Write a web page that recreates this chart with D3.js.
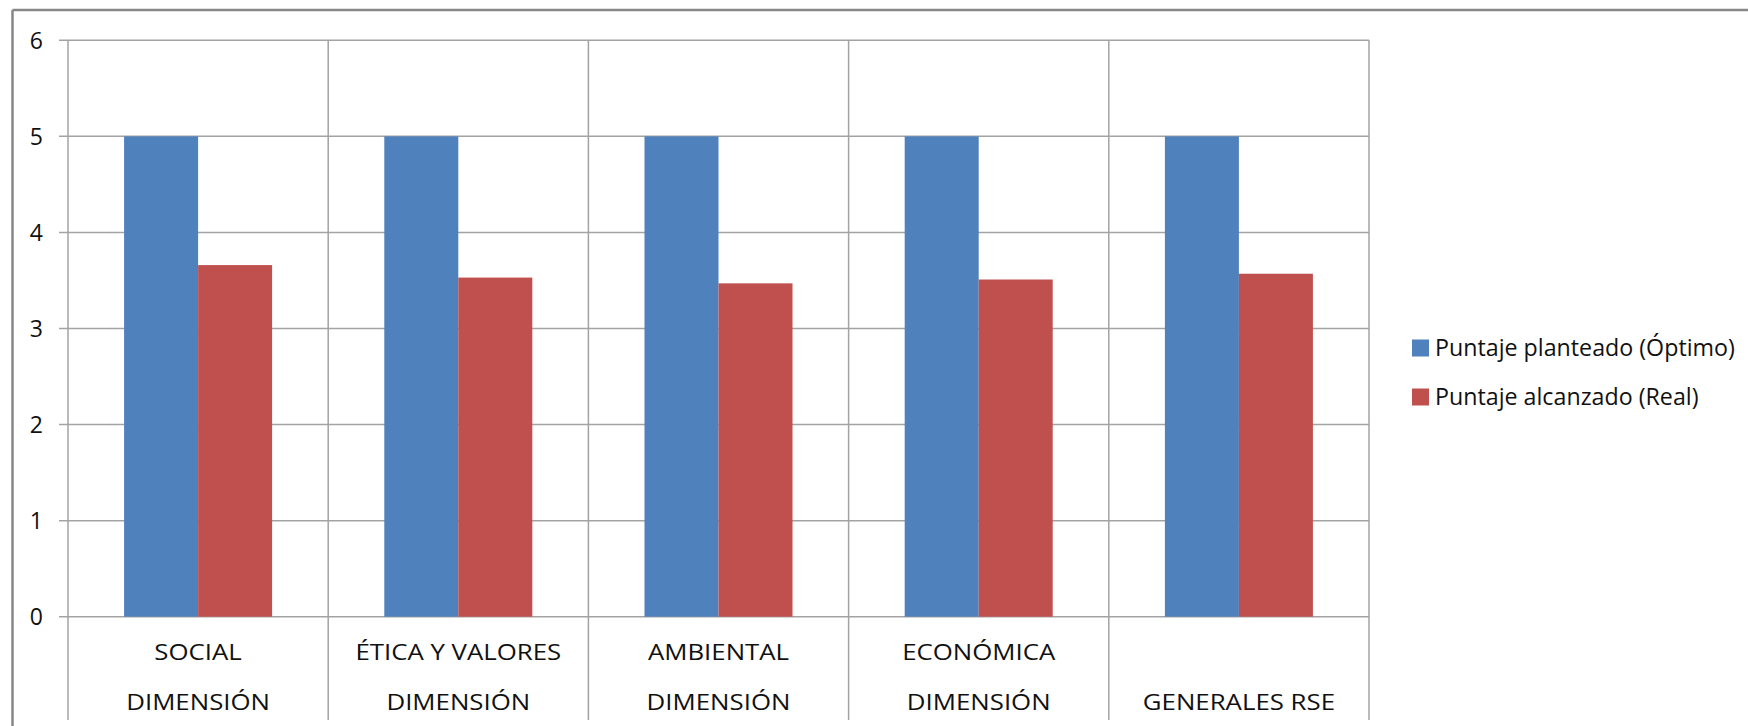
<!DOCTYPE html>
<html>
<head>
<meta charset="utf-8">
<script src="https://cdn.jsdelivr.net/npm/d3@7"></script>
<style>
  body { margin: 0; background: #fff; }
  #myPlot { width: 1748px; height: 726px; }
  text { font-family: "Open Sans", Lato, sans-serif; fill: #111; }
</style>
</head>
<body>
<div id="myPlot"></div>
<script>
// Data
const categories = ["SOCIAL", "ÉTICA Y VALORES", "AMBIENTAL", "ECONÓMICA", "GENERALES RSE"];
const labelLine1 = ["SOCIAL", "ÉTICA Y VALORES", "AMBIENTAL", "ECONÓMICA", ""];
const labelLine2 = ["DIMENSIÓN", "DIMENSIÓN", "DIMENSIÓN", "DIMENSIÓN", "GENERALES RSE"];
const seriesNames = ["Puntaje planteado (Óptimo)", "Puntaje alcanzado (Real)"];
const optimo = [5, 5, 5, 5, 5];
const real = [3.66, 3.53, 3.47, 3.51, 3.57];
const yTicks = [0, 1, 2, 3, 4, 5, 6];
const colors = ["#4F81BD", "#C0504D"];

// Set Dimensions
const xSize = 1748;
const ySize = 726;
const plotLeft = 68, plotRight = 1369, plotTop = 40.3, plotBottom = 616.7;

const svg = d3.select("#myPlot")
  .append("svg")
  .attr("width", xSize)
  .attr("height", ySize);

// measure a string so the text width can be matched to the original
function stretchFor(str, size, target) {
  var t = svg.append("text").style("font-size", size + "px").text(str);
  var w = t.node().getComputedTextLength();
  t.remove();
  return target / w;
}
const catSize = 22, legSize = 23;
const catSx = stretchFor("ÉTICA Y VALORES", catSize, 206);
const legSx = stretchFor("Puntaje planteado (Óptimo)", legSize, 300);

// Outer chart border (only top and left visible)
svg.append("line")
  .attr("x1", 12.5).attr("y1", 10).attr("x2", xSize).attr("y2", 10)
  .style("stroke", "#878787").style("stroke-width", 2.5);
svg.append("line")
  .attr("x1", 12.5).attr("y1", 10).attr("x2", 12.5).attr("y2", ySize)
  .style("stroke", "#878787").style("stroke-width", 2.5);

// Scales
const y = d3.scaleLinear()
  .domain([0, 6])
  .range([plotBottom, plotTop]);

const x0 = d3.scaleBand()
  .domain(categories)
  .range([plotLeft, plotRight])
  .padding(0);

const x1 = d3.scaleBand()
  .domain(seriesNames)
  .range([0, x0.bandwidth()])
  .paddingInner(0)
  .paddingOuter(0.758);

// Horizontal gridlines + tick marks
svg.append("g")
  .selectAll("line")
  .data(yTicks).enter()
  .append("line")
  .attr("x1", plotLeft - 9)
  .attr("x2", plotRight)
  .attr("y1", function (d) { return y(d) })
  .attr("y2", function (d) { return y(d) })
  .style("stroke", "#a3a3a3")
  .style("stroke-width", 1.5);

// Vertical lines at category boundaries, running down through the label area
const bounds = categories.map(function (c) { return x0(c) }).concat([plotRight]);
svg.append("g")
  .selectAll("line")
  .data(bounds).enter()
  .append("line")
  .attr("x1", function (d) { return d })
  .attr("x2", function (d) { return d })
  .attr("y1", plotTop)
  .attr("y2", 720)
  .style("stroke", "#a3a3a3")
  .style("stroke-width", 1.5);

// Y tick labels
svg.append("g")
  .selectAll("text")
  .data(yTicks).enter()
  .append("text")
  .attr("x", 43)
  .attr("y", function (d) { return y(d) })
  .attr("dy", "0.36em")
  .attr("text-anchor", "end")
  .style("font-size", "23px")
  .text(function (d) { return d });

// Bars
const rows = categories.map(function (c, i) {
  return { cat: c, values: [{ s: seriesNames[0], v: optimo[i] }, { s: seriesNames[1], v: real[i] }] };
});

svg.append("g")
  .selectAll("g")
  .data(rows).enter()
  .append("g")
  .attr("transform", function (d) { return "translate(" + x0(d.cat) + ",0)" })
  .selectAll("rect")
  .data(function (d) { return d.values }).enter()
  .append("rect")
  .attr("x", function (d) { return x1(d.s) })
  .attr("y", function (d) { return y(d.v) })
  .attr("width", x1.bandwidth())
  .attr("height", function (d) { return y(0) - y(d.v) })
  .style("fill", function (d, i) { return colors[i] });

// Category labels (two lines)
const lines = [{ texts: labelLine1, yPos: 652 }, { texts: labelLine2, yPos: 702 }];
lines.forEach(function (ln) {
  svg.append("g")
    .selectAll("text")
    .data(categories).enter()
    .append("text")
    .attr("transform", function (d) {
      return "translate(" + (x0(d) + x0.bandwidth() / 2) + "," + ln.yPos + ") scale(" + catSx + ",1)";
    })
    .attr("dy", "0.36em")
    .attr("text-anchor", "middle")
    .style("font-size", catSize + "px")
    .text(function (d, i) { return ln.texts[i] });
});

// Legend
const legend = svg.append("g")
  .selectAll("g")
  .data(seriesNames).enter()
  .append("g")
  .attr("transform", function (d, i) { return "translate(1412," + (348 + i * 49) + ")" });

legend.append("rect")
  .attr("x", 0)
  .attr("y", -8.5)
  .attr("width", 17)
  .attr("height", 17)
  .style("fill", function (d, i) { return colors[i] });

legend.append("text")
  .attr("transform", "translate(23,0) scale(" + legSx + ",1)")
  .attr("dy", "0.36em")
  .style("font-size", legSize + "px")
  .text(function (d) { return d });
</script>
</body>
</html>
